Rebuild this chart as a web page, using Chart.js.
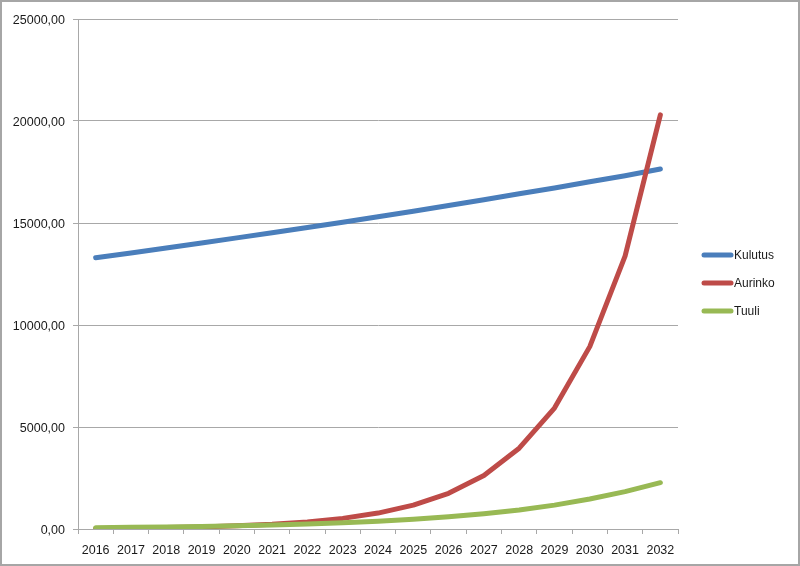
<!DOCTYPE html>
<html>
<head>
<meta charset="utf-8">
<script src="https://cdn.jsdelivr.net/npm/chart.js@4"></script>
<style>
  html, body { margin: 0; padding: 0; background: #fff; }
  #wrap { width: 800px; height: 566px; position: relative; }
</style>
</head>
<body>
<div id="wrap"><canvas id="chart" width="800" height="566"></canvas></div>
<script>
// ── Data ────────────────────────────────────────────────────────────────────
const years    = ['2016','2017','2018','2019','2020','2021','2022','2023','2024',
                  '2025','2026','2027','2028','2029','2030','2031','2032'];
const kulutus  = [13300, 13530, 13770, 14020, 14270, 14520, 14780, 15040, 15310,
                  15580, 15860, 16140, 16430, 16720, 17020, 17320, 17650];
const aurinko  = [30, 46, 68, 103, 154, 231, 347, 520, 780,
                  1170, 1750, 2620, 3960, 5930, 8940, 13380, 20300];
const tuuli    = [64, 80, 100, 125, 156, 195, 244, 305, 381,
                  477, 596, 745, 930, 1170, 1470, 1830, 2270];
const yTicks   = [0, 5000, 10000, 15000, 20000, 25000];

// ─ Colours ──────────────────────────────────────────────────────────────────
const BLUE  = '#4a7ebb';
const RED   = '#be4b48';
const GREEN = '#98b954';
const GRID  = '#a8a8a8';
const TEXT  = '#1a1a1a';
const FONT  = '"Liberation Sans", Arial, sans-serif';

// ─ Plugins: frame + legend ──────────────────────────────────────────────────
const framePlugin = {
  id: 'frame',
  afterDraw(chart) {
    const c = chart.ctx;
    c.save();
    c.strokeStyle = '#a6a6a6';
    c.lineWidth = 2;
    c.strokeRect(1, 1, chart.width - 2, chart.height - 2);
    c.restore();
  }
};

const legendPlugin = {
  id: 'sideLegend',
  afterDraw(chart) {
    const c = chart.ctx;
    const ys = [255, 283, 311];
    const sets = chart.data.datasets.slice().sort((a, b) => a.legendIdx - b.legendIdx);
    c.save();
    c.font = '12px ' + FONT;
    c.textBaseline = 'middle';
    sets.forEach((ds, i) => {
      c.strokeStyle = ds.borderColor;
      c.lineWidth = 5;
      c.lineCap = 'round';
      c.beginPath();
      c.moveTo(704, ys[i]);
      c.lineTo(731, ys[i]);
      c.stroke();
      c.fillStyle = TEXT;
      c.fillText(ds.label, 734, ys[i] + 1);
    });
    c.restore();
  }
};

function mkSet(label, data, color, order, legendIdx) {
  return {
    label, data, order, legendIdx,
    borderColor: color,
    backgroundColor: color,
    borderWidth: 5,
    borderCapStyle: 'round',
    borderJoinStyle: 'round',
    pointRadius: 0,
    tension: 0,
    fill: false,
  };
}

new Chart(document.getElementById('chart').getContext('2d'), {
  type: 'line',
  data: {
    labels: years,
    datasets: [
      mkSet('Kulutus', kulutus, BLUE, 3, 0),
      mkSet('Aurinko', aurinko, RED, 2, 1),
      mkSet('Tuuli', tuuli, GREEN, 1, 2),
    ]
  },
  options: {
    responsive: false,
    animation: false,
    layout: { padding: { left: 2, right: 122, top: 19, bottom: 7 } },
    plugins: { legend: { display: false }, tooltip: { enabled: false } },
    scales: {
      x: {
        offset: true,
        grid: { offset: true, drawOnChartArea: false, drawTicks: true, tickLength: 5, color: GRID },
        border: { color: GRID, width: 1 },
        ticks: { color: TEXT, font: { family: FONT, size: 12.5 }, padding: 9, maxRotation: 0, autoSkip: false },
        afterFit: s => { s.height = 30; }
      },
      y: {
        min: 0, max: 25000,
        afterBuildTicks: s => { s.ticks = yTicks.map(v => ({ value: v })); },
        grid: { color: GRID, tickLength: 5, lineWidth: 1 },
        border: { color: GRID, width: 1 },
        ticks: {
          color: TEXT, font: { family: FONT, size: 12.5 }, padding: 8, labelOffset: 2,
          callback: v => v.toFixed(2).replace('.', ',')
        },
        afterFit: s => { s.width = 76; }
      }
    }
  },
  plugins: [framePlugin, legendPlugin]
});
</script>
</body>
</html>
